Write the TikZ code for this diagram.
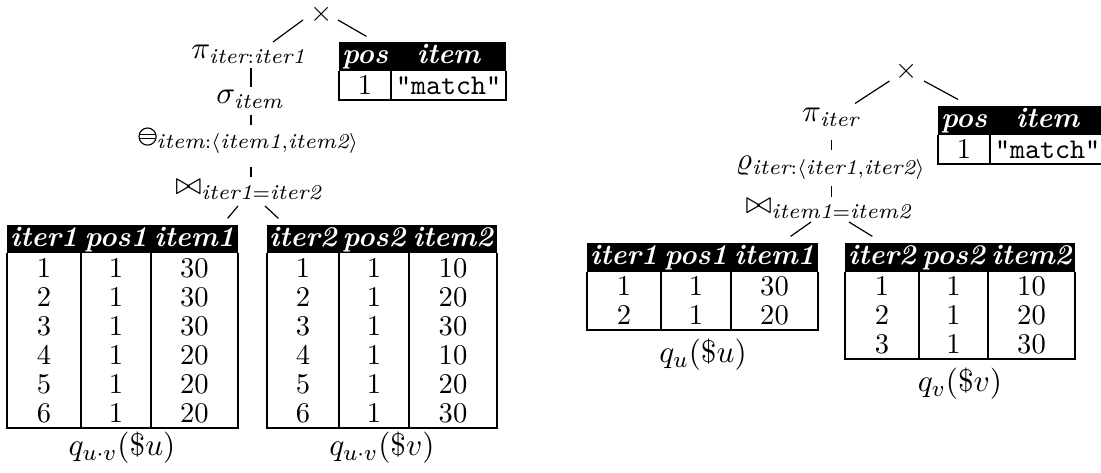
\documentclass[tikz,border=0pt]{standalone}
\usepackage{amsmath}
\usetikzlibrary{calc,fit}
\newcommand\ceqop{\mathbin{\tikz[baseline=-2.6pt,line width=0.4pt]{\draw (0,0) circle (3pt); \draw (-3pt,0.7pt)--(3pt,0.7pt) (-3pt,-0.7pt)--(3pt,-0.7pt);}}}
\begin{document}
\begin{tikzpicture}[x=0.35pt,y=-0.35pt,
  op/.style={inner sep=0pt,anchor=base,font=\fontsize{10.6}{13}\selectfont},
  edge/.style={line width=0.42pt},
  tabline/.style={line width=0.48pt},
  tbox/.style={inner sep=0pt,draw=none},
  hd/.style={text=white,font=\bfseries\itshape,inner sep=0pt,anchor=base},
  cell/.style={inner sep=0pt,anchor=base},
  captext/.style={inner sep=0pt,font=\fontsize{10.8}{13}\selectfont}]
\useasboundingbox (0,0) rectangle (1101,473);

% ---------------- left plan ----------------
\node[inner sep=0pt] (x1) at (322,14) {$\times$};
\node[op] (p1) at (249,59) {$\pi_{\textit{iter}:\textit{iter1}}$};
\node[op] (s1) at (250,104) {$\sigma_{\textit{item}}$};
\node[op] (c1) at (249,144) {$\ceqop_{\textit{item}:\langle\textit{item1},\textit{item2}\rangle}$};
\node[op] (j1) at (249,195) {$\bowtie_{\textit{iter1}=\textit{iter2}}$};

% pos/item table (left)
\node[tbox,fit={(339,42)(506,100)}] (tp1) {};
\fill (339,42) rectangle (506,71);
\draw[tabline] (339,71) -- (339,100) -- (506,100) -- (506,71) (391,71) -- (391,100);
\node[hd] (tp1-h1) at (365,64) {pos};
\node[hd] (tp1-h2) at (448.5,64) {item};
\node[cell] (tp1-1) at (365,94.5) {1};
\node[cell] (tp1-2) at (448.5,94.5) {\texttt{"match"}};

% table A
\node[tbox,fit={(7,225)(238,428)}] (tA) {};
\fill (7,225) rectangle (238,253);
\draw[tabline] (7,253) -- (7,428) -- (238,428) -- (238,253) (81,253) -- (81,428) (151,253) -- (151,428);
\node[hd] (tA-h1) at (44,247) {iter1};
\node[hd] (tA-h2) at (116,247) {pos1};
\node[hd] (tA-h3) at (194.5,247) {item1};
\foreach \a/\b/\c [count=\k] in {1/1/30,2/1/30,3/1/30,4/1/20,5/1/20,6/1/20}{
  \node[cell] (tA-\k-1) at (44,{253+29.17*(\k-0.5)+9.5}) {\a};
  \node[cell] (tA-\k-2) at (116,{253+29.17*(\k-0.5)+9.5}) {\b};
  \node[cell] (tA-\k-3) at (194.5,{253+29.17*(\k-0.5)+9.5}) {\c};
}
\node[captext] (capA) at (122,448) {$q_{u\cdot v}(\$u)$};

% table B
\node[tbox,fit={(267,225)(497,428)}] (tB) {};
\fill (267,225) rectangle (497,253);
\draw[tabline] (267,253) -- (267,428) -- (497,428) -- (497,253) (339,253) -- (339,428) (409,253) -- (409,428);
\node[hd] (tB-h1) at (303,247) {iter2};
\node[hd] (tB-h2) at (374,247) {pos2};
\node[hd] (tB-h3) at (453,247) {item2};
\foreach \a/\b/\c [count=\k] in {1/1/10,2/1/20,3/1/30,4/1/10,5/1/20,6/1/30}{
  \node[cell] (tB-\k-1) at (303,{253+29.17*(\k-0.5)+9.5}) {\a};
  \node[cell] (tB-\k-2) at (374,{253+29.17*(\k-0.5)+9.5}) {\b};
  \node[cell] (tB-\k-3) at (453,{253+29.17*(\k-0.5)+9.5}) {\c};
}
\node[captext] (capB) at (382,448) {$q_{u\cdot v}(\$v)$};

% connectors left
\draw[edge] ($(x1)+(-19,6)$) -- ($(p1.base)+(24,-17)$);
\draw[edge] ($(x1)+(16,6)$) -- ($(tp1.north west)+(28,-5)$);
\draw[edge] ($(p1.base)+(2,9)$) -- ($(s1.base)+(1,-17)$);
\draw[edge] ($(s1.base)+(1,11)$) -- ($(c1.base)+(2,-19)$);
\draw[edge] ($(c1.base)+(2,23)$) -- ($(j1.base)+(2,-18)$);
\draw[edge] ($(j1.base)+(-11,11)$) -- ($(tA.north east)+(-11,-6)$);
\draw[edge] ($(j1.base)+(16,11)$) -- ($(tB.north west)+(12,-6)$);

% ---------------- right plan ----------------
\node[inner sep=0pt] (x2) at (907,71) {$\times$};
\node[op] (p2) at (831,122) {$\pi_{\textit{iter}}$};
\node[op] (r2) at (831,170) {$\varrho_{\textit{iter}:\langle\textit{iter1},\textit{iter2}\rangle}$};
\node[op] (j2) at (829,214) {$\bowtie_{\textit{item1}=\textit{item2}}$};

% pos/item table (right)
\node[tbox,fit={(938,106)(1105,164)}] (tp2) {};
\fill (938,106) rectangle (1105,135);
\draw[tabline] (938,135) -- (938,164) -- (1105,164) -- (1105,135) (990,135) -- (990,164);
\node[hd] (tp2-h1) at (964,128) {pos};
\node[hd] (tp2-h2) at (1047.5,128) {item};
\node[cell] (tp2-1) at (964,158.5) {1};
\node[cell] (tp2-2) at (1047.5,158.5) {\texttt{"match"}};

% table C
\node[tbox,fit={(587,243)(818,330)}] (tC) {};
\fill (587,243) rectangle (818,272);
\draw[tabline] (587,272) -- (587,330) -- (818,330) -- (818,272) (661,272) -- (661,330) (731,272) -- (731,330);
\node[hd] (tC-h1) at (624,265) {iter1};
\node[hd] (tC-h2) at (696,265) {pos1};
\node[hd] (tC-h3) at (774.5,265) {item1};
\foreach \a/\b/\c [count=\k] in {1/1/30,2/1/20}{
  \node[cell] (tC-\k-1) at (624,{272+29*(\k-0.5)+9.5}) {\a};
  \node[cell] (tC-\k-2) at (696,{272+29*(\k-0.5)+9.5}) {\b};
  \node[cell] (tC-\k-3) at (774.5,{272+29*(\k-0.5)+9.5}) {\c};
}
\node[captext] (capC) at (703,355) {$q_{u}(\$u)$};

% table D
\node[tbox,fit={(845,243)(1075,359)}] (tD) {};
\fill (845,243) rectangle (1075,272);
\draw[tabline] (845,272) -- (845,359) -- (1075,359) -- (1075,272) (919,272) -- (919,359) (988,272) -- (988,359);
\node[hd] (tD-h1) at (882,265) {iter2};
\node[hd] (tD-h2) at (953.5,265) {pos2};
\node[hd] (tD-h3) at (1031.5,265) {item2};
\foreach \a/\b/\c [count=\k] in {1/1/10,2/1/20,3/1/30}{
  \node[cell] (tD-\k-1) at (882,{272+29*(\k-0.5)+9.5}) {\a};
  \node[cell] (tD-\k-2) at (953.5,{272+29*(\k-0.5)+9.5}) {\b};
  \node[cell] (tD-\k-3) at (1031.5,{272+29*(\k-0.5)+9.5}) {\c};
}
\node[captext] (capD) at (960,384) {$q_{v}(\$v)$};

% connectors right
\draw[edge] ($(x2)+(-17.5,10)$) -- ($(p2.base)+(24,-18.5)$);
\draw[edge] ($(x2)+(17,10)$) -- ($(tp2.north west)+(20.5,-6)$);
\draw[edge] ($(p2.base)+(0.5,18)$) -- ($(r2.base)+(0.5,-20)$);
\draw[edge] ($(r2.base)+(0.5,16)$) -- ($(j2.base)+(2.5,-17)$);
\draw[edge] ($(j2.base)+(-18,8)$) -- ($(tC.north east)+(-28,-6)$);
\draw[edge] ($(j2.base)+(20,8)$) -- ($(tD.north west)+(28,-6)$);
\end{tikzpicture}
\end{document}
